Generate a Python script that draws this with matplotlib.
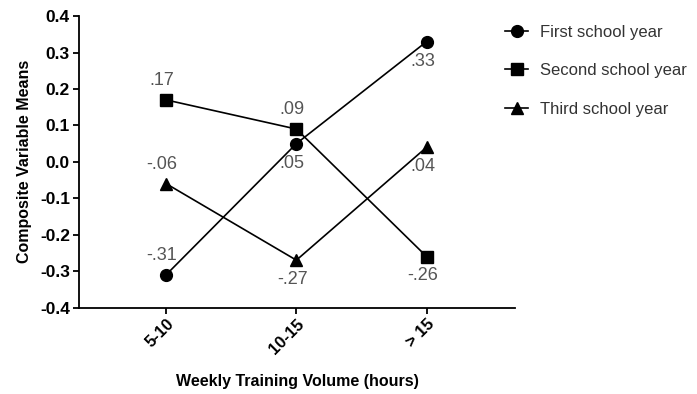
import matplotlib
matplotlib.use("Agg")
import matplotlib.pyplot as plt

plt.rcParams['font.family'] = ['Liberation Sans', 'DejaVu Sans']

categories = ['5-10', '10-15', '> 15']
first_year = [-0.31, 0.05, 0.33]
second_year = [0.17, 0.09, -0.26]
third_year = [-0.06, -0.27, 0.04]

first_labels = ['-.31', '.05', '.33']
second_labels = ['.17', '.09', '-.26']
third_labels = ['-.06', '-.27', '.04']

# where each label sits: +1 above point, -1 below
first_pos = [1, -1, -1]
second_pos = [1, 1, -1]
third_pos = [1, -1, -1]

yticks = [-0.4, -0.3, -0.2, -0.1, 0.0, 0.1, 0.2, 0.3, 0.4]

fig = plt.figure(figsize=(6.97, 3.94), dpi=100)
ax = fig.add_axes([0.1133, 0.2195, 0.6257, 0.7395])

x = list(range(len(categories)))
series = [
    (first_year, first_labels, first_pos, 'o', 'First school year'),
    (second_year, second_labels, second_pos, 's', 'Second school year'),
    (third_year, third_labels, third_pos, '^', 'Third school year'),
]
for vals, labs, pos, mk, name in series:
    ax.plot(x, vals, color='black', lw=1.2, marker=mk, markersize=8.5, label=name)
    for xi, v, lab, p in zip(x, vals, labs, pos):
        ax.annotate(lab, (xi, v), xytext=(-3, 14 * p), textcoords='offset points',
                    ha='center', va='center', fontsize=13, color='#555555')

ax.set_xlim(-0.67, 2.68)
ax.set_ylim(-0.4, 0.4)
ax.set_yticks(yticks)
ax.set_yticklabels([f'{t:.1f}' for t in yticks], fontweight='bold', fontsize=12.5)
ax.set_xticks(x)
ax.set_xticklabels(categories, rotation=45, ha='right', rotation_mode='anchor',
                   fontweight='bold', fontsize=12)
for s in ['top', 'right']:
    ax.spines[s].set_visible(False)
for s in ['left', 'bottom']:
    ax.spines[s].set_linewidth(1.3)
ax.tick_params(direction='out', length=4.5, width=1.3, pad=2)
ax.set_ylabel('Composite Variable Means', fontweight='bold', fontsize=11.5, labelpad=6)
ax.set_xlabel('Weekly Training Volume (hours)', fontweight='bold', fontsize=11.5, labelpad=12)

leg = fig.legend(loc='upper left', bbox_to_anchor=(0.703, 0.975), frameon=False,
                 fontsize=12, handlelength=1.4, labelspacing=1.4, handletextpad=0.7)
for t in leg.get_texts():
    t.set_color('#333333')

fig.savefig('out.png', dpi=100)
